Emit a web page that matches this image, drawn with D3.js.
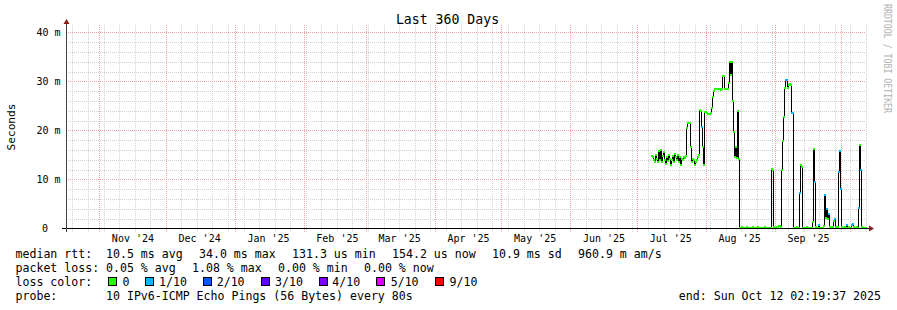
<!DOCTYPE html>
<html><head><meta charset="utf-8">
<script src="https://cdn.jsdelivr.net/npm/d3@7"></script>
<style>
body{margin:0;background:#fff}
svg{display:block}
text{font-family:"DejaVu Sans Mono",monospace;fill:#000}
</style>
</head><body>
<svg id="c" width="897" height="310"></svg>
<script>
// ---------- data ----------
const title = "Last 360 Days";
const yAxisTitle = "Seconds";
const watermark = "RRDTOOL / TOBI OETIKER";
const endTime = "2025-10-12T02:19:37Z";
const windowDays = 360;
const yMaxMs = 41.5;
const yTicksMs = [0, 10, 20, 30, 40];
const yTickLabels = ["0", "10 m", "20 m", "30 m", "40 m"];
const yMinorStepMs = 2;
const monthStarts = ["2024-11-01","2024-12-01","2025-01-01","2025-02-01","2025-03-01","2025-04-01",
                     "2025-05-01","2025-06-01","2025-07-01","2025-08-01","2025-09-01","2025-10-01"];
const monthLabelDates = ["2024-11-16","2024-12-16","2025-01-16","2025-02-16","2025-03-16","2025-04-16",
                         "2025-05-16","2025-06-16","2025-07-16","2025-08-16","2025-09-16"];
const monthLabels = ["Nov '24","Dec '24","Jan '25","Feb '25","Mar '25","Apr '25",
                     "May '25","Jun '25","Jul '25","Aug '25","Sep '25"];

// RRD rows (median rtt in ms), one row every 10.8 h starting at firstSample
const firstSample = "2025-07-07T19:00:00Z";
const sampleStepHours = 10.8;
const medianMs = [
  14.8,14.5,14.0,13.6,15.0,14.2,13.5,15.9,14.0,16.0,13.5,14.8,15.5,14.0,13.2,14.5,13.8,15.0,14.2,13.0,
  14.0,14.8,13.5,15.2,14.5,14.0,15.0,13.6,14.5,13.0,14.2,14.0,14.5,14.3,14.8,
  20.4,21.5,21.6,21.5,16.6,13.6,14.2,14.0,12.9,13.5,14.0,14.5,15.0,
  24.1,23.9,20.7,16.6,12.9,23.7,23.7,23.5,23.3,23.3,23.4,23.6,
  24.5,26.9,28.0,28.4,28.4,28.4,28.4,28.4,28.4,28.3,28.4,31.1,31.0,28.4,28.5,28.4,28.4,29.6,
  34.0,31.3,34.0,26.0,19.7,14.6,16.6,14.3,23.9,14.1,
  0.2,0.2,0.3,0.2,0.1,0.2,0.2,0.3,0.2,0.2,0.2,0.1,0.2,0.3,0.2,0.2,0.2,0.2,0.3,0.2,0.2,0.2,0.1,0.2,0.2,0.3,0.2,0.2,0.2,0.2,0.2,0.2,
  12.2,12.0,0.3,0.2,0.2,0.3,0.3,0.6,0.6,0.3,
  11.9,17.9,22.8,28.6,30.3,30.3,28.6,29.2,29.5,29.2,23.6,23.6,0.2,
  0.2,0.2,0.3,0.2,0.2,
  7.2,12.9,12.6,0.2,
  0.2,0.2,0.2,0.3,0.2,0.2,0.2,0.2,0.2,
  1.3,16.2,9.5,0.3,
  0.2,0.2,0.7,0.2,0.2,0.2,0.2,
  0.5,6.8,2.2,3.9,2.0,3.0,0.4,
  0.3,0.2,0.3,1.6,2.0,0.3,0.2,0.3,
  11.6,15.8,8.0,0.3,
  0.2,0.2,0.3,0.2,0.8,0.2,0.3,0.2,0.2,0.8,0.9,0.3,0.2,0.2,0.3,0.2,
  4.1,17.0,11.9,0.3,0.2,0.2,0.2,0.2
];
// lost pings out of 10 for each row
const lossTenths = [
  0,0,0,0,0,0,0,0,0,0,0,0,0,0,0,0,0,0,0,0, 0,0,0,0,0,0,0,0,0,0,0,0,0,0,0,
  0,0,0,0,0,0,0,0,0,0,0,0,0,
  0,0,1,0,0,0,0,0,0,0,0,0,
  0,0,0,0,0,0,0,0,0,0,0,0,0,0,0,0,0,0,
  0,0,0,0,0,0,0,0,0,0,
  0,0,0,0,0,0,0,0,0,0,0,0,0,0,0,0,0,0,0,0,0,0,0,0,0,0,0,0,0,0,0,0,
  0,0,0,0,0,0,0,0,0,0,
  0,0,0,0,1,1,0,0,0,0,1,1,0,
  0,0,0,0,0,
  1,0,0,0,
  0,0,0,0,0,0,0,0,0,
  0,0,1,0,
  0,0,1,0,0,0,0,
  0,1,0,1,0,1,0,
  0,0,0,0,1,0,0,0,
  1,1,1,0,
  0,0,0,0,1,0,0,0,0,1,1,0,0,0,0,0,
  1,0,1,0,0,0,0,0
];
const lossLevels = [0, 1, 2, 3, 4, 5, 9];
const lossLegend = ["0", "1/10", "2/10", "3/10", "4/10", "5/10", "9/10"];
const lossColors = ["#26ff00", "#00b8ff", "#0059ff", "#5e00ff", "#7e00ff", "#dd00ff", "#ff0000"];
const rttStats = ["10.5 ms avg", "34.0 ms max", "131.3 us min", "154.2 us now", "10.9 ms sd", "960.9 m am/s"];
const lossStats = ["0.05 % avg", "1.08 % max", "0.00 % min", "0.00 % now"];
const probeText = "10 IPv6-ICMP Echo Pings (56 Bytes) every 80s";
const endText = "end: Sun Oct 12 02:19:37 2025";

// ---------- layout ----------
const svg = d3.select("#c");
const L = 66, R = 866, B = 228.5, T = 25;
const DAY = 86400000;
const tEnd = new Date(endTime);
const tStart = new Date(tEnd.getTime() - windowDays * DAY);
const x = d3.scaleUtc().domain([tStart, tEnd]).range([L, R]);
const y = d3.scaleLinear().domain([0, yMaxMs]).range([B, T]);
const px = d => Math.floor(x(d)) + 0.5;

svg.append("rect").attr("width", 897).attr("height", 310).attr("fill", "#fff");

// grid
const grid = svg.append("g").attr("shape-rendering", "crispEdges");
const minorY = d3.range(yMinorStepMs, yMaxMs, yMinorStepMs).filter(v => !yTicksMs.includes(v));
grid.selectAll(".hy").data(minorY).join("line")
  .attr("x1", L).attr("x2", R).attr("y1", d => Math.round(y(d)) + 0.5).attr("y2", d => Math.round(y(d)) + 0.5)
  .attr("stroke", "#d2d2d2").attr("stroke-dasharray", "1,1");
const weeks = d3.utcSunday.range(tStart, tEnd);
grid.selectAll(".vw").data(weeks).join("line")
  .attr("x1", d => Math.round(x(d)) + 0.5).attr("x2", d => Math.round(x(d)) + 0.5)
  .attr("y1", T).attr("y2", B + 3)
  .attr("stroke", "#d2d2d2").attr("stroke-dasharray", "1,1");
const months = monthStarts.map(s => new Date(s + "T00:00:00Z"));
grid.selectAll(".vm").data(months).join("line")
  .attr("x1", d => Math.round(x(d)) + 0.5).attr("x2", d => Math.round(x(d)) + 0.5)
  .attr("y1", T).attr("y2", B + 3)
  .attr("stroke", "#f2a2a2").attr("stroke-dasharray", "1,1");
grid.selectAll(".hm").data(yTicksMs.filter(v => v > 0)).join("line")
  .attr("x1", L).attr("x2", R).attr("y1", d => Math.round(y(d)) + 0.5).attr("y2", d => Math.round(y(d)) + 0.5)
  .attr("stroke", "#f2a2a2").attr("stroke-dasharray", "1,1");

// data
const t0 = new Date(firstSample).getTime();
const step = sampleStepHours * 3600000;
const samples = medianMs.map((v, i) => ({
  t: new Date(t0 + i * step), t1: new Date(t0 + (i + 1) * step), v, loss: lossTenths[i]
}));
const colorFor = l => {
  let idx = 0;
  lossLevels.forEach((lv, k) => { if (l >= lv) idx = k; });
  return lossColors[idx];
};
const marks = svg.append("g");
marks.selectAll(".vert").data(samples.slice(1)).join("line")
  .attr("x1", d => px(d.t)).attr("x2", d => px(d.t))
  .attr("y1", (d, i) => y(samples[i].v)).attr("y2", d => y(d.v))
  .attr("stroke", "#000").attr("stroke-width", 1).attr("shape-rendering", "crispEdges");
marks.selectAll(".cap").data(samples).join("line")
  .attr("x1", d => px(d.t) - 0.5).attr("x2", d => Math.max(px(d.t1) - 0.5, px(d.t) + 1.5))
  .attr("y1", d => Math.round(y(d.v)) - 0.5).attr("y2", d => Math.round(y(d.v)) - 0.5)
  .attr("stroke", d => colorFor(d.loss)).attr("stroke-width", 2).attr("shape-rendering", "crispEdges");

// axes lines + arrows
svg.append("line").attr("x1", 62).attr("x2", 869).attr("y1", B).attr("y2", B)
  .attr("stroke", "#000").attr("shape-rendering", "crispEdges");
svg.append("line").attr("x1", L + 0.5).attr("x2", L + 0.5).attr("y1", B + 3).attr("y2", T - 2)
  .attr("stroke", "#444").attr("shape-rendering", "crispEdges");
svg.append("path").attr("d", `M${L + 0.5 - 3},${T - 1} L${L + 0.5 + 3},${T - 1} L${L + 0.5},${T - 6} Z`).attr("fill", "#8b1a1a");
svg.append("path").attr("d", `M869,${B - 3} L869,${B + 3} L874,${B} Z`).attr("fill", "#8b1a1a");

// x labels via axis
const xAxis = d3.axisBottom(x)
  .tickValues(monthLabelDates.map(s => new Date(s + "T00:00:00Z")))
  .tickFormat((d, i) => monthLabels[i]).tickSize(0).tickPadding(0);
const gx = svg.append("g").attr("transform", `translate(0,${B + 13.5})`).call(xAxis);
gx.select(".domain").remove();
gx.selectAll("text").attr("font-family", "DejaVu Sans Mono").attr("font-size", 10).attr("fill", "#000").attr("dy", 0);

// y labels via axis
const yAxis = d3.axisLeft(y).tickValues(yTicksMs).tickFormat((d, i) => yTickLabels[i]).tickSize(0).tickPadding(0);
const gy = svg.append("g").attr("transform", "translate(60.5,0)").call(yAxis);
gy.select(".domain").remove();
gy.selectAll("text").attr("font-family", "DejaVu Sans Mono").attr("font-size", 10).attr("fill", "#000")
  .attr("dy", "0.33em").attr("dx", d => d === 0 ? -12.5 : 0);

// titles
svg.append("text").attr("x", 447.5).attr("y", 24).attr("text-anchor", "middle").attr("font-size", 13.2).text(title);
svg.append("text").attr("transform", "translate(14.5,127) rotate(-90)").attr("text-anchor", "middle")
  .attr("font-size", 11.2).text(yAxisTitle);
svg.append("text").attr("transform", "translate(884,4) rotate(90)").attr("font-size", 10.5)
  .attr("textLength", 109).attr("lengthAdjust", "spacingAndGlyphs").style("fill", "#b4b4b4").text(watermark);

// legend
const FS = 11.58;
const leg = svg.append("g").attr("font-size", FS);
const row1 = 258.3, row2 = 272.3, row3 = 286.3, row4 = 300.3;
leg.append("text").attr("x", 15.5).attr("y", row1).text("median rtt:");
const rttX = [106, 199, 292, 392, 492, 578];
leg.selectAll(".r").data(rttStats).join("text").attr("x", (d, i) => rttX[i]).attr("y", row1).text(d => d);
leg.append("text").attr("x", 15.5).attr("y", row2).text("packet loss:");
const lossX = [106, 192, 278, 364];
leg.selectAll(".l").data(lossStats).join("text").attr("x", (d, i) => lossX[i]).attr("y", row2).text(d => d);
leg.append("text").attr("x", 15.5).attr("y", row3).text("loss color:");
const boxX = [108.5, 145.5, 203.5, 261, 319, 376.5, 435];
const labX = [122.5, 159, 216.7, 275, 332.3, 390.7, 449.5];
leg.selectAll(".b").data(lossColors).join("rect")
  .attr("x", (d, i) => boxX[i]).attr("y", 277.5).attr("width", 8).attr("height", 8)
  .attr("fill", d => d).attr("stroke", "#000").attr("shape-rendering", "crispEdges");
leg.selectAll(".bl").data(lossLegend).join("text").attr("x", (d, i) => labX[i]).attr("y", row3).text(d => d);
leg.append("text").attr("x", 15.5).attr("y", row4).text("probe:");
leg.append("text").attr("x", 106).attr("y", row4).text(probeText);
leg.append("text").attr("x", 881).attr("y", row4).attr("text-anchor", "end").text(endText);
</script>
</body></html>
